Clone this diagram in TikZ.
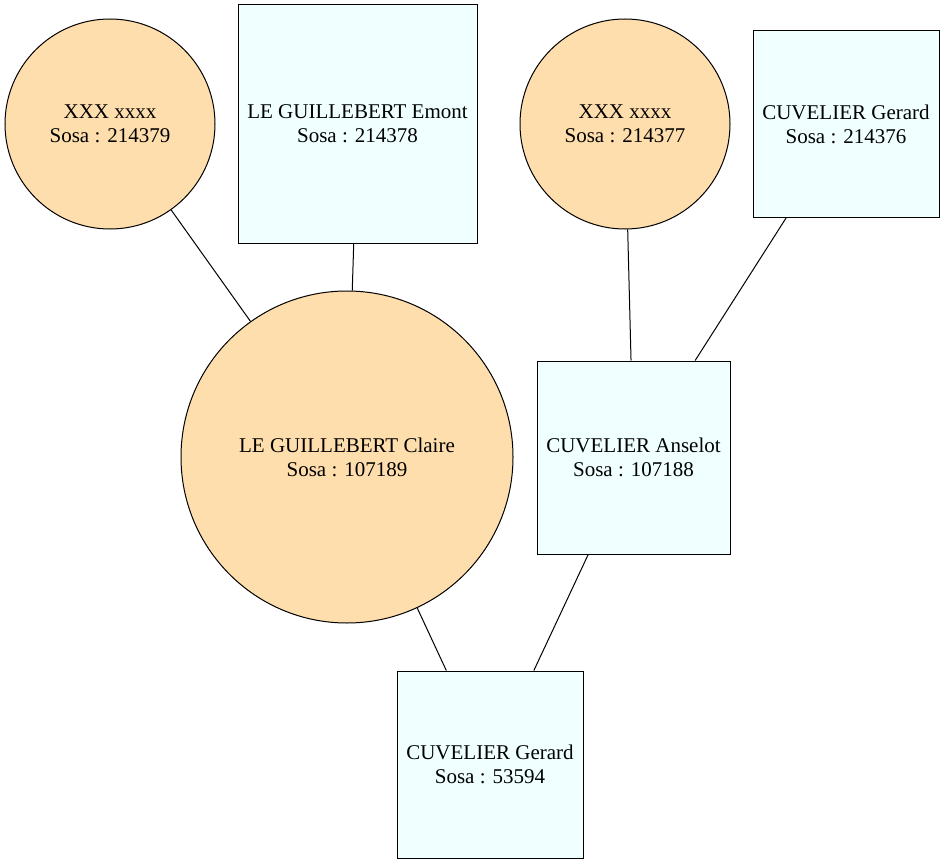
\documentclass[tikz,border=0pt]{standalone}
\usepackage{fontspec}
\setmainfont{Liberation Serif}
\begin{document}
\begin{tikzpicture}[x=1pt,y=-1pt,
  person/.style={draw=black,line width=1pt,inner sep=0pt,align=center,
    font=\fontsize{21}{24}\selectfont},
  woman/.style={person,circle,fill={rgb,255:red,255;green,222;blue,173}},
  man/.style={person,rectangle,fill={rgb,255:red,240;green,255;blue,255}},
  link/.style={draw=black,line width=1pt}]
\useasboundingbox (0,0) rectangle (945,864);
% grandparents
\node[woman,minimum size=210pt] (w1) at (110,124) {XXX xxxx\\Sosa : 214379};
\node[man,minimum width=239pt,minimum height=238pt] (m1) at (357.5,124) {LE GUILLEBERT Emont\\Sosa : 214378};
\node[woman,minimum size=210pt] (w2) at (625,124) {XXX xxxx\\Sosa : 214377};
\node[man,minimum width=186pt,minimum height=186pt] (m2) at (846,124) {CUVELIER Gerard\\Sosa : 214376};
% parents
\node[woman,minimum size=332pt] (mother) at (347,457) {LE GUILLEBERT Claire\\Sosa : 107189};
\node[man,minimum width=193pt,minimum height=193pt] (father) at (633.5,457.5) {CUVELIER Anselot\\Sosa : 107188};
% root
\node[man,minimum width=186pt,minimum height=187pt] (root) at (490,764.5) {CUVELIER Gerard\\Sosa : 53594};
% links
\draw[link] (w1) -- (mother);
\draw[link] (m1) -- (mother);
\draw[link] (w2) -- (father);
\draw[link] (m2) -- (father);
\draw[link] (mother) -- (root);
\draw[link] (father) -- (root);
\end{tikzpicture}
\end{document}
